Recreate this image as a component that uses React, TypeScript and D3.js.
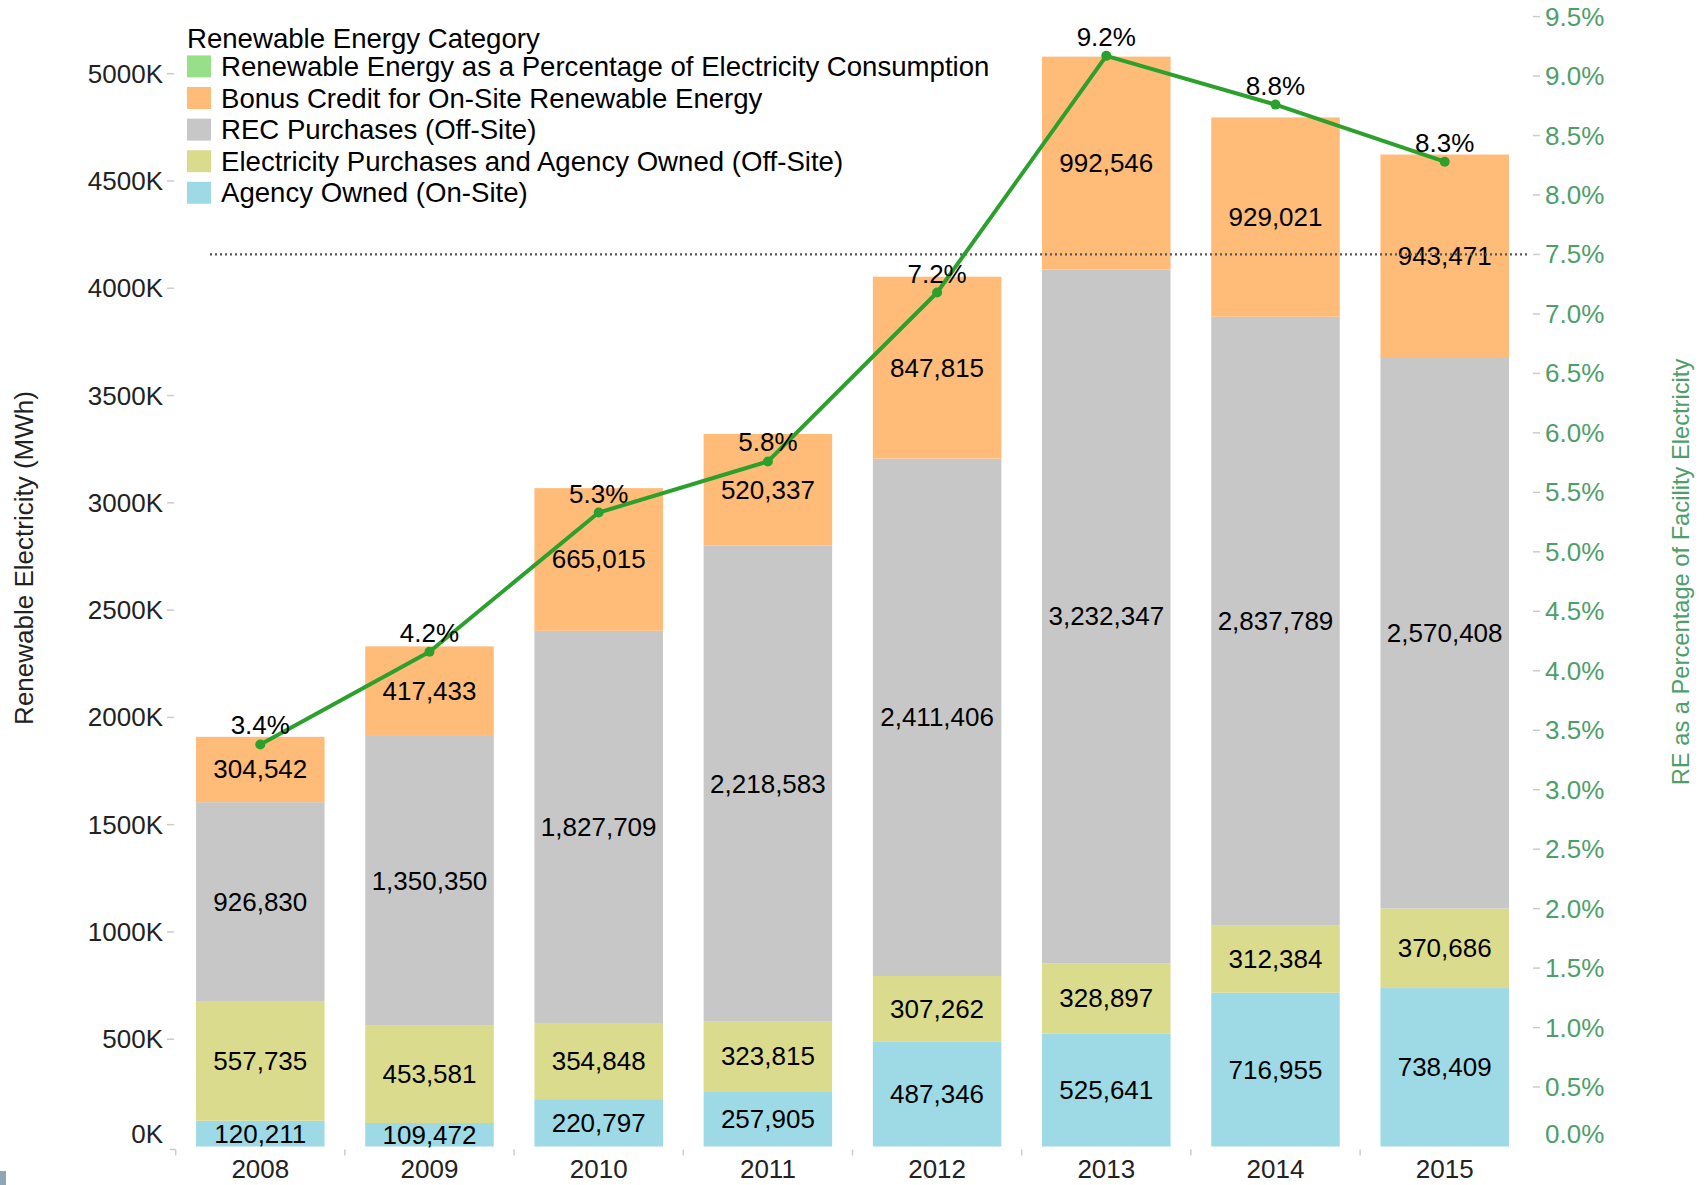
import React from 'react';
import * as d3 from 'd3';

const years = ['2008', '2009', '2010', '2011', '2012', '2013', '2014', '2015'];
const agencyOwnedOnSite = [120211, 109472, 220797, 257905, 487346, 525641, 716955, 738409];
const elecPurchasesOffSite = [557735, 453581, 354848, 323815, 307262, 328897, 312384, 370686];
const recPurchases = [926830, 1350350, 1827709, 2218583, 2411406, 3232347, 2837789, 2570408];
const bonusCredit = [304542, 417433, 665015, 520337, 847815, 992546, 929021, 943471];
const rePercent = [3.38, 4.16, 5.33, 5.76, 7.18, 9.17, 8.76, 8.28];
const leftTicks = [0, 500000, 1000000, 1500000, 2000000, 2500000, 3000000, 3500000, 4000000, 4500000, 5000000];
const rightTicks = [0, 0.5, 1, 1.5, 2, 2.5, 3, 3.5, 4, 4.5, 5, 5.5, 6, 6.5, 7, 7.5, 8, 8.5, 9, 9.5];
const targetPercent = 7.5;

const seriesKeys = ['agency', 'elec', 'rec', 'bonus'];
const seriesColors: Record<string, string> = {
  agency: '#9edae5',
  elec: '#dbdb8d',
  rec: '#c7c7c7',
  bonus: '#ffbb78',
};
const legendItems = [
  { label: 'Renewable Energy as a Percentage of Electricity Consumption', color: '#98df8a' },
  { label: 'Bonus Credit for On-Site Renewable Energy', color: '#ffbb78' },
  { label: 'REC Purchases (Off-Site)', color: '#c7c7c7' },
  { label: 'Electricity Purchases and Agency Owned (Off-Site)', color: '#dbdb8d' },
  { label: 'Agency Owned (On-Site)', color: '#9edae5' },
];

const FONT = '"Liberation Sans", Arial, sans-serif';
const GREEN_TEXT = '#4e9e6a';
const LINE_GREEN = '#2ca02c';

export default function App() {
  const W = 1708;
  const H = 1185;
  const x0 = 175.7;
  const step = 169.2;
  const x = d3
    .scaleBand<string>()
    .domain(years)
    .range([x0, x0 + step * years.length])
    .paddingInner(0.2405)
    .paddingOuter(0.12025);
  const yBase = 1146.5;
  const yTop = 16.6;
  const yL = d3.scaleLinear().domain([0, 5266000]).range([yBase, yTop]);
  const yR = d3.scaleLinear().domain([0, 9.5]).range([yBase, yTop]);

  const rows = years.map((yr, i) => ({
    year: yr,
    agency: agencyOwnedOnSite[i],
    elec: elecPurchasesOffSite[i],
    rec: recPurchases[i],
    bonus: bonusCredit[i],
  }));
  const stacked = d3.stack<any>().keys(seriesKeys)(rows);
  const fmt = d3.format(',');
  const fmtK = (v: number) => `${v / 1000}K`;
  const fmtP = d3.format('.1f');

  const cx = (yr: string) => (x(yr) as number) + x.bandwidth() / 2;
  const line = d3
    .line<number>()
    .x((_, i) => cx(years[i]))
    .y((d) => yR(d));

  return (
    <svg width={W} height={H} style={{ position: 'absolute', left: 0, top: 0, background: '#fff' }} fontFamily={FONT}>
      <rect x={0} y={0} width={W} height={H} fill="#fff" />
      {/* bars */}
      {stacked.map((s) => (
        <g key={s.key}>
          {s.map((d, i) => (
            <rect
              key={i}
              x={x(years[i])}
              y={yL(d[1])}
              width={x.bandwidth()}
              height={yL(d[0]) - yL(d[1])}
              fill={seriesColors[s.key]}
            />
          ))}
        </g>
      ))}
      {/* segment labels */}
      {stacked.map((s) => (
        <g key={'l' + s.key}>
          {s.map((d, i) => (
            <text
              key={i}
              x={cx(years[i])}
              y={(yL(d[0]) + yL(d[1])) / 2}
              textAnchor="middle"
              dominantBaseline="central"
              fontSize={26}
              fill="#000"
            >
              {fmt(d[1] - d[0])}
            </text>
          ))}
        </g>
      ))}
      {/* reference line */}
      <line
        x1={210}
        x2={1530}
        y1={yR(targetPercent)}
        y2={yR(targetPercent)}
        stroke="#555"
        strokeWidth={2.2}
        strokeDasharray="2,3"
      />
      {/* left axis */}
      {leftTicks.map((t) => (
        <g key={'lt' + t}>
          {t > 0 && <line x1={167} x2={174} y1={yL(t)} y2={yL(t)} stroke="#ccc" strokeWidth={1.5} />}
          <text
            x={163}
            y={yL(t) - (t === 0 ? 13 : 0)}
            textAnchor="end"
            dominantBaseline="central"
            fontSize={26}
            fill="#222"
          >
            {fmtK(t)}
          </text>
        </g>
      ))}
      <text
        transform={`translate(24,558) rotate(-90)`}
        textAnchor="middle"
        dominantBaseline="central"
        fontSize={26}
        fill="#222"
      >
        Renewable Electricity (MWh)
      </text>
      {/* right axis */}
      {rightTicks.map((t) => (
        <g key={'rt' + t}>
          {t > 0 && <line x1={1533} x2={1540} y1={yR(t)} y2={yR(t)} stroke="#ccc" strokeWidth={1.5} />}
          <text
            x={1545}
            y={yR(t) - (t === 0 ? 13 : 0)}
            textAnchor="start"
            dominantBaseline="central"
            fontSize={26}
            fill={GREEN_TEXT}
          >
            {fmtP(t)}%
          </text>
        </g>
      ))}
      <text
        transform={`translate(1681,572) rotate(-90)`}
        textAnchor="middle"
        dominantBaseline="central"
        fontSize={23.7}
        fill={GREEN_TEXT}
      >
        RE as a Percentage of Facility Electricity
      </text>
      {/* x axis */}
      <path d={`M${x0},${yBase + 3}H${x0 - 6}M${x0},${yBase + 3}V${yBase + 9}`} stroke="#ccc" strokeWidth={1.5} fill="none" />
      {years.slice(1).map((yr, i) => (
        <line
          key={'xt' + yr}
          x1={x0 + step * (i + 1)}
          x2={x0 + step * (i + 1)}
          y1={yBase + 3}
          y2={yBase + 9}
          stroke="#ccc"
          strokeWidth={1.5}
        />
      ))}
      {years.map((yr) => (
        <text key={'xl' + yr} x={cx(yr)} y={1169} textAnchor="middle" dominantBaseline="central" fontSize={26} fill="#222">
          {yr}
        </text>
      ))}
      {/* percent line */}
      <path d={line(rePercent) || ''} fill="none" stroke={LINE_GREEN} strokeWidth={4} strokeLinejoin="round" />
      {rePercent.map((p, i) => (
        <circle key={'pt' + i} cx={cx(years[i])} cy={yR(p)} r={5} fill={LINE_GREEN} />
      ))}
      {rePercent.map((p, i) => (
        <text
          key={'pl' + i}
          x={cx(years[i])}
          y={yR(p) - 19}
          textAnchor="middle"
          dominantBaseline="central"
          fontSize={26}
          fill="#000"
        >
          {fmtP(p)}%
        </text>
      ))}
      {/* legend */}
      <text x={187} y={38} dominantBaseline="central" fontSize={27.6} fill="#000">
        Renewable Energy Category
      </text>
      {legendItems.map((it, i) => (
        <g key={'lg' + i} transform={`translate(187,${66.4 + i * 31.6})`}>
          <rect x={0} y={-11} width={24} height={22} fill={it.color} />
          <text x={34} y={0} dominantBaseline="central" fontSize={27.6} fill="#000">
            {it.label}
          </text>
        </g>
      ))}
      <rect x={0} y={1171} width={6} height={14} fill="#8fa5b8" />
    </svg>
  );
}
